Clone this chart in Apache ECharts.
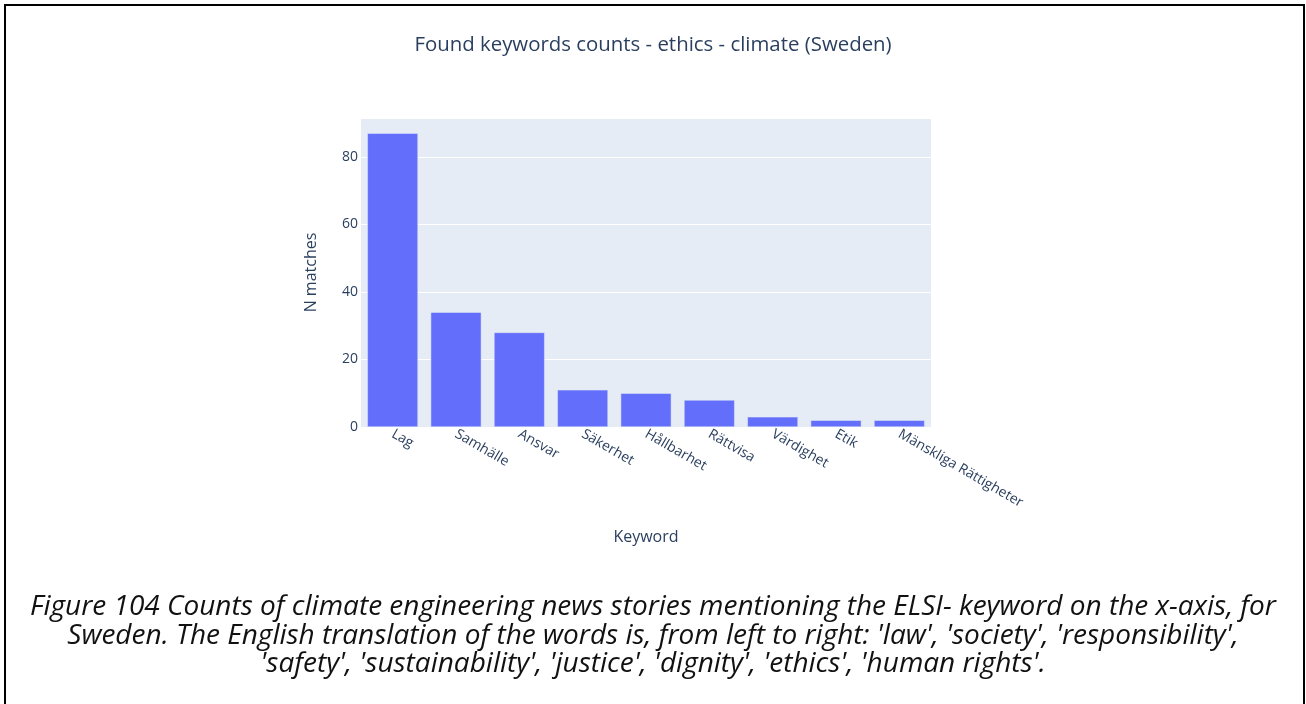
<!DOCTYPE html>
<html>
<head>
<meta charset="utf-8">
<script src="https://cdn.jsdelivr.net/npm/echarts@6/dist/echarts.min.js"></script>
<style>
html,body{margin:0;padding:0;background:#fff;}
#chart{width:1306px;height:704px;}
</style>
</head>
<body>
<div id="chart"></div>
<script>
const categories = ['Lag','Samhälle','Ansvar','Säkerhet','Hållbarhet','Rättvisa','Värdighet','Etik','Mänskliga Rättigheter'];
const counts = [87, 34, 28, 11, 10, 8, 3, 2, 2];
const chartTitle = 'Found keywords counts - ethics - climate (Sweden)';
const xTitle = 'Keyword';
const yTitle = 'N matches';
const captionLines = [
  "Figure 104 Counts of climate engineering news stories mentioning the ELSI- keyword on the x-axis, for",
  "Sweden. The English translation of the words is, from left to right: 'law', 'society', 'responsibility',",
  "'safety', 'sustainability', 'justice', 'dignity', 'ethics', 'human rights'."
];

const chart = echarts.init(document.getElementById('chart'), null, {renderer:'canvas'});
const font = '"Open Sans", verdana, arial, sans-serif';
chart.setOption({
  animation:false,
  backgroundColor:'#fff',
  title:{
    text:chartTitle, left:'center', top:30,
    textStyle:{fontFamily:font, fontSize:20.4, fontWeight:'normal', color:'#2a3f5f'}
  },
  grid:{left:361, right:375, top:118, bottom:277, show:true, backgroundColor:'#e5ecf6', borderWidth:0, containLabel:false},
  xAxis:{
    type:'category', data:categories,
    axisLine:{show:false}, axisTick:{show:false},
    axisLabel:{rotate:-30, margin:6, color:'#2a3f5f', fontSize:14, fontFamily:font, interval:0},
    name:xTitle, nameLocation:'middle', nameGap:102,
    nameTextStyle:{color:'#2a3f5f', fontSize:16, fontFamily:font}
  },
  yAxis:{
    type:'value', min:0, max:91.5, interval:20,
    axisLine:{show:false}, axisTick:{show:false},
    axisLabel:{color:'#2a3f5f', fontSize:14, fontFamily:font, margin:3, showMaxLabel:false,
      formatter:function(v){return v%20===0?String(v):'';}},
    splitLine:{lineStyle:{color:'#ffffff', width:1}},
    name:yTitle, nameLocation:'middle', nameGap:42, nameRotate:90,
    nameTextStyle:{color:'#2a3f5f', fontSize:16, fontFamily:font}
  },
  series:[{
    type:'bar', data:counts, barCategoryGap:'20%',
    itemStyle:{color:'#636efa', borderColor:'#e5ecf6', borderWidth:0.5}
  }],
  graphic:[
    {type:'rect', shape:{x:5, y:5, width:1299, height:720}, style:{fill:'none', stroke:'#000', lineWidth:2}, silent:true},
    {type:'text', left:'center', top:593, style:{text:captionLines.join('\n'), textAlign:'center', font:'italic 28px "Open Sans", sans-serif', lineHeight:28.5, fill:'#111'}}
  ]
});
</script>
</body>
</html>
